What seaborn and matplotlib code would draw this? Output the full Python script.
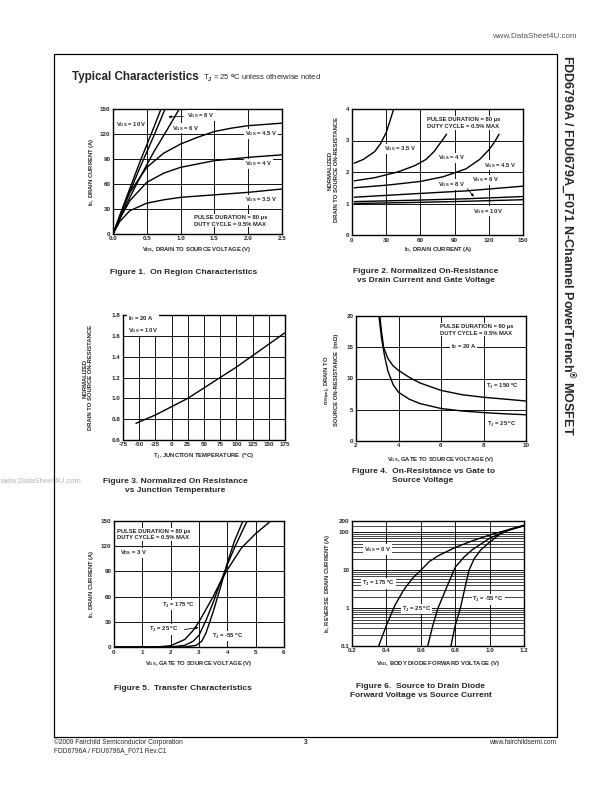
import matplotlib
matplotlib.use("Agg")
import matplotlib.pyplot as plt
import seaborn as sns
from matplotlib.patches import Rectangle
from matplotlib.ticker import FixedLocator, NullFormatter

sns.set_style("white")
plt.rcParams['font.family'] = ['Liberation Sans', 'DejaVu Sans']
plt.rcParams['font.weight'] = 'bold'
plt.rcParams['axes.unicode_minus'] = False
plt.rcParams['mathtext.fontset'] = 'custom'
plt.rcParams['mathtext.rm'] = 'Liberation Sans:bold'
plt.rcParams['mathtext.it'] = 'Liberation Sans:bold'
plt.rcParams['mathtext.bf'] = 'Liberation Sans:bold'
plt.rcParams['mathtext.sf'] = 'Liberation Sans:bold'

# ---- Figure 1: on region characteristics (VDS in V, ID in A)
f1_vds_10v = [0, 0.2, 0.4, 0.6, 0.71]
f1_id_10v = [0, 44, 87, 127, 150]
f1_vds_8v = [0, 0.2, 0.4, 0.6, 0.77]
f1_id_8v = [0, 41, 80, 117, 150]
f1_vds_6v = [0, 0.2, 0.4, 0.6, 0.8, 0.98]
f1_id_6v = [0, 36, 68, 98, 125, 150]
f1_vds_45v = [0, 0.125, 0.25, 0.5, 0.75, 1.0, 1.25, 1.5, 1.75, 2.0, 2.5]
f1_id_45v = [0, 27, 50, 80, 97, 108, 116, 123, 127, 130, 133]
f1_vds_4v = [0, 0.125, 0.25, 0.5, 0.75, 1.0, 1.5, 2.0, 2.5]
f1_id_4v = [0, 22, 40, 62, 73, 80, 88, 92, 95]
f1_vds_35v = [0, 0.1, 0.25, 0.5, 0.75, 1.0, 1.5, 2.0, 2.5]
f1_id_35v = [0, 15, 28, 37, 41, 44, 47, 50, 54]

# ---- Figure 2: normalized on-resistance vs drain current
f2_id_35v = [2, 10, 20, 25, 30, 34, 37]
f2_r_35v = [2.28, 2.4, 2.65, 2.9, 3.25, 3.7, 4.05]
f2_id_4v = [2, 20, 40, 55, 65, 72, 78, 83]
f2_r_4v = [1.72, 1.82, 2.0, 2.2, 2.4, 2.65, 2.95, 3.2]
f2_id_45v = [2, 30, 60, 80, 100, 112, 120, 125, 129]
f2_r_45v = [1.5, 1.58, 1.7, 1.85, 2.1, 2.4, 2.7, 2.95, 3.2]
f2_id_6v = [2, 50, 100, 150]
f2_r_6v = [1.2, 1.3, 1.4, 1.55]
f2_id_8v = [2, 50, 100, 150]
f2_r_8v = [1.06, 1.1, 1.15, 1.22]
f2_id_10v = [2, 50, 100, 150]
f2_r_10v = [1.0, 1.03, 1.07, 1.12]

# ---- Figure 3: normalized on-resistance vs junction temperature
f3_tj = [-55, -25, 0, 25, 50, 75, 100, 125, 150, 175]
f3_r = [0.76, 0.84, 0.92, 1.0, 1.1, 1.2, 1.3, 1.41, 1.52, 1.63]

# ---- Figure 4: on-resistance vs gate voltage (mOhm)
f4_vgs_150 = [3.12, 3.2, 3.3, 3.5, 3.75, 4, 4.5, 5, 6, 7, 8, 9, 10]
f4_r_150 = [20, 17.5, 15, 13.2, 12.0, 11.3, 10.2, 9.3, 8.1, 7.4, 7.0, 6.7, 6.4]
f4_vgs_25 = [3.08, 3.2, 3.35, 3.5, 3.75, 4, 4.5, 5, 6, 7, 8, 9, 10]
f4_r_25 = [20, 16.5, 13.5, 11.2, 9.0, 7.8, 6.7, 6.0, 5.2, 4.8, 4.55, 4.35, 4.2]

# ---- Figure 5: transfer characteristics
f5_vgs_175 = [0, 1.5, 2, 2.5, 2.8, 3, 3.25, 3.5, 3.75, 4, 4.5, 5, 5.5]
f5_id_175 = [0, 0, 1.5, 9, 20, 30, 45, 60, 77, 92, 118, 135, 149]
f5_vgs_25 = [0, 2, 2.5, 2.8, 3, 3.25, 3.5, 3.75, 4, 4.25, 4.5, 4.7]
f5_id_25 = [0, 0, 2, 7, 14, 32, 53, 76, 98, 118, 136, 150]
f5_vgs_m55 = [0, 2.5, 2.9, 3.1, 3.25, 3.5, 3.75, 4, 4.25, 4.55]
f5_id_m55 = [0, 0, 2, 7, 17, 42, 70, 100, 126, 150]

# ---- Figure 6: body diode forward voltage vs source current
f6_vsd_175 = [0.355, 0.4, 0.45, 0.5, 0.55, 0.6, 0.65, 0.7, 0.8, 0.9, 1.0, 1.1, 1.2]
f6_is_175 = [0.1, 0.35, 1.2, 3, 6, 10, 17, 24, 40, 60, 85, 115, 155]
f6_vsd_25 = [0.64, 0.67, 0.7, 0.75, 0.8, 0.85, 0.9, 1.0, 1.1, 1.2]
f6_is_25 = [0.1, 0.35, 1, 3.5, 12, 22, 35, 70, 110, 150]
f6_vsd_m55 = [0.775, 0.8, 0.83, 0.86, 0.88, 0.91, 0.95, 1.0, 1.06, 1.12, 1.2]
f6_is_m55 = [0.1, 0.35, 1, 4, 10, 20, 35, 55, 90, 120, 150]

W, H = 612, 792
fig = plt.figure(figsize=(W / 72, H / 72), dpi=72)
fig.patch.set_facecolor('white')

LBL = 5.9    # in-plot notes and axis titles
TICK = 6.2
CAP = 8.4    # figure captions
CAP_LS = 1.3
BOX = dict(facecolor='white', edgecolor='none', pad=0.8)


def ft(x, y, s, **kw):
    return fig.text(x / W, 1 - y / H, s, **kw)


def panel(l, t, r, b, xlim, ylim, xticks, yticks, xfmt=None, yfmt=None):
    ax = fig.add_axes([l / W, 1 - b / H, (r - l) / W, (b - t) / H])
    ax.set_xlim(*xlim)
    ax.set_ylim(*ylim)
    ax.set_xticks(xticks)
    ax.set_yticks(yticks)
    if xfmt:
        ax.set_xticklabels(xfmt)
    if yfmt:
        ax.set_yticklabels(yfmt)
    ax.tick_params(length=0, pad=2.5, labelsize=TICK)
    for lab in ax.get_xticklabels() + ax.get_yticklabels():
        lab.set_fontweight('bold')
    ax.grid(True, color='black', linewidth=0.9)
    ax.set_axisbelow(True)
    for sp in ax.spines.values():
        sp.set_color('black')
        sp.set_linewidth(1.4)
    return ax


def curve(ax, x, y):
    sns.lineplot(x=x, y=y, ax=ax, color='black', linewidth=1.4,
                 estimator=None, sort=False)


def label(ax, x, y, s):
    ax.text(x, y, s, fontsize=LBL, fontweight='bold', va='center', bbox=BOX, zorder=5)


PULSE = 'PULSE DURATION = 80 µs\nDUTY CYCLE = 0.5% MAX'

# ---------------- Figure 1
ax1 = panel(113, 109, 282, 234, (0, 2.5), (0, 150),
            [0, 0.5, 1.0, 1.5, 2.0, 2.5], [0, 30, 60, 90, 120, 150],
            xfmt=['0.0', '0.5', '1.0', '1.5', '2.0', '2.5'])
for xs, ys in [(f1_vds_10v, f1_id_10v), (f1_vds_8v, f1_id_8v), (f1_vds_6v, f1_id_6v),
               (f1_vds_45v, f1_id_45v), (f1_vds_4v, f1_id_4v), (f1_vds_35v, f1_id_35v)]:
    curve(ax1, xs, ys)
label(ax1, 0.04, 131, r'V$_{\mathrm{GS}}$ = 10 V')
label(ax1, 1.1, 142, r'V$_{\mathrm{GS}}$ = 8 V')
ax1.annotate('', xy=(0.79, 140.5), xytext=(1.07, 141),
             arrowprops=dict(arrowstyle='-|>', color='black', lw=0.8, mutation_scale=5))
label(ax1, 0.88, 127, r'V$_{\mathrm{GS}}$ = 6 V')
label(ax1, 1.95, 120, r'V$_{\mathrm{GS}}$ = 4.5 V')
label(ax1, 1.95, 84, r'V$_{\mathrm{GS}}$ = 4 V')
label(ax1, 1.95, 41, r'V$_{\mathrm{GS}}$ = 3.5 V')
ax1.text(1.2, 16, PULSE, fontsize=LBL, fontweight='bold', va='center',
         linespacing=1.45, bbox=BOX, zorder=5)
ft(91, 172, r'I$_{\mathrm{D}}$, DRAIN CURRENT (A)', rotation=90, ha='center', va='center',
   fontsize=LBL, fontweight='bold')
ft(197, 249, r'V$_{\mathrm{DS}}$, DRAIN TO SOURCE VOLTAGE (V)', ha='center', va='center',
   fontsize=LBL, fontweight='bold')
ft(184, 273, 'Figure 1.  On Region Characteristics', ha='center', va='center',
   fontsize=CAP, fontweight='bold')

# ---------------- Figure 2
ax2 = panel(352, 109, 523, 235, (0, 150), (0, 4),
            [0, 30, 60, 90, 120, 150], [0, 1, 2, 3, 4])
for xs, ys in [(f2_id_35v, f2_r_35v), (f2_id_4v, f2_r_4v), (f2_id_45v, f2_r_45v),
               (f2_id_6v, f2_r_6v), (f2_id_8v, f2_r_8v), (f2_id_10v, f2_r_10v)]:
    curve(ax2, xs, ys)
label(ax2, 28, 2.73, r'V$_{\mathrm{GS}}$ = 3.5 V')
label(ax2, 75, 2.45, r'V$_{\mathrm{GS}}$ = 4 V')
label(ax2, 116, 2.22, r'V$_{\mathrm{GS}}$ = 4.5 V')
label(ax2, 105, 1.75, r'V$_{\mathrm{GS}}$ = 6 V')
label(ax2, 75, 1.6, r'V$_{\mathrm{GS}}$ = 8 V')
ax2.annotate('', xy=(108, 1.17), xytext=(100, 1.52),
             arrowprops=dict(arrowstyle='-|>', color='black', lw=0.8, mutation_scale=5))
label(ax2, 106, 0.76, r'V$_{\mathrm{GS}}$ = 10 V')
ax2.text(66, 3.55, PULSE, fontsize=LBL, fontweight='bold', va='center',
         linespacing=1.45, bbox=BOX, zorder=5)
ft(333, 170, 'NORMALIZED\nDRAIN TO SOURCE ON-RESISTANCE', rotation=90, ha='center',
   va='center', fontsize=LBL, fontweight='bold', multialignment='center', linespacing=1.4)
ft(438, 250, r'I$_{\mathrm{D}}$, DRAIN CURRENT (A)', ha='center', va='center',
   fontsize=LBL, fontweight='bold')
ft(426, 276, 'Figure 2. Normalized On-Resistance\nvs Drain Current and Gate Voltage',
   ha='center', va='center', fontsize=CAP, fontweight='bold', multialignment='center',
   linespacing=CAP_LS)

# ---------------- Figure 3
ax3 = panel(123, 315, 285, 440, (-75, 175), (0.6, 1.8),
            list(range(-75, 176, 25)), [0.6, 0.8, 1.0, 1.2, 1.4, 1.6, 1.8],
            yfmt=['0.6', '0.8', '1.0', '1.2', '1.4', '1.6', '1.8'])
curve(ax3, f3_tj, f3_r)
ax3.text(-68, 1.705, 'I$_{\\mathrm{D}}$ = 20 A\nV$_{\\mathrm{GS}}$ = 10 V', fontsize=LBL,
         fontweight='bold', va='center', linespacing=1.5, bbox=BOX, zorder=5)
ft(88, 378, 'NORMALIZED\nDRAIN TO SOURCE ON-RESISTANCE', rotation=90, ha='center',
   va='center', fontsize=LBL, fontweight='bold', multialignment='center', linespacing=1.25)
ft(204, 456, r'T$_{\mathrm{J}}$, JUNCTION TEMPERATURE  ($^{\mathrm{o}}$C)', ha='center',
   va='center', fontsize=LBL, fontweight='bold')
ft(0, 481, 'www.DataSheet4U.com', ha='left', va='center', fontsize=7.6,
   color='#b4b4b4', fontweight='normal')
ft(175, 486, 'Figure 3. Normalized On Resistance\nvs Junction Temperature',
   ha='center', va='center', fontsize=CAP, fontweight='bold', multialignment='center',
   linespacing=CAP_LS, bbox=dict(facecolor='white', edgecolor='none', pad=0.3))

# ---------------- Figure 4
ax4 = panel(356, 316, 526, 441, (2, 10), (0, 20), [2, 4, 6, 8, 10], [0, 5, 10, 15, 20])
curve(ax4, f4_vgs_150, f4_r_150)
curve(ax4, f4_vgs_25, f4_r_25)
ax4.text(5.95, 17.8, PULSE, fontsize=LBL, fontweight='bold', va='center',
         linespacing=1.45, bbox=BOX, zorder=5)
label(ax4, 6.45, 15.1, r'I$_{\mathrm{D}}$ = 20 A')
label(ax4, 8.1, 8.8, r'T$_{\mathrm{J}}$ = 150 $^{\mathrm{o}}$C')
label(ax4, 8.15, 2.7, r'T$_{\mathrm{J}}$ = 25 $^{\mathrm{o}}$C')
ft(331, 380, 'r$_{\\mathrm{DS(on)}}$, DRAIN TO\nSOURCE ON-RESISTANCE  (mΩ)', rotation=90,
   ha='center', va='center', fontsize=LBL, fontweight='bold', multialignment='center',
   linespacing=1.15)
ft(441, 459, r'V$_{\mathrm{GS}}$, GATE TO SOURCE VOLTAGE (V)', ha='center', va='center',
   fontsize=LBL, fontweight='bold')
ft(423, 476, 'Figure 4.  On-Resistance vs Gate to\nSource Voltage', ha='center',
   va='center', fontsize=CAP, fontweight='bold', multialignment='center',
   linespacing=CAP_LS)

# ---------------- Figure 5
ax5 = panel(114, 521, 284, 647, (0, 6), (0, 150), [0, 1, 2, 3, 4, 5, 6],
            [0, 30, 60, 90, 120, 150])
for xs, ys in [(f5_vgs_175, f5_id_175), (f5_vgs_25, f5_id_25), (f5_vgs_m55, f5_id_m55)]:
    curve(ax5, xs, ys)
ax5.text(0.12, 134, PULSE, fontsize=LBL, fontweight='bold', va='center',
         linespacing=1.45, bbox=BOX, zorder=5)
label(ax5, 0.2, 112, r'V$_{\mathrm{DS}}$ = 3 V')
label(ax5, 1.7, 50, r'T$_{\mathrm{J}}$ = 175 $^{\mathrm{o}}$C')
label(ax5, 1.25, 21, r'T$_{\mathrm{J}}$ = 25 $^{\mathrm{o}}$C')
ax5.annotate('', xy=(3.05, 23.5), xytext=(2.42, 20.5),
             arrowprops=dict(arrowstyle='-|>', color='black', lw=0.8, mutation_scale=5))
label(ax5, 3.45, 13, r'T$_{\mathrm{J}}$ = -55 $^{\mathrm{o}}$C')
ft(92, 584, r'I$_{\mathrm{D}}$, DRAIN CURRENT (A)', rotation=90, ha='center', va='center',
   fontsize=LBL, fontweight='bold')
ft(199, 663, r'V$_{\mathrm{GS}}$, GATE TO SOURCE VOLTAGE (V)', ha='center', va='center',
   fontsize=LBL, fontweight='bold')
ft(183, 688, 'Figure 5.  Transfer Characteristics', ha='center', va='center',
   fontsize=CAP, fontweight='bold')

# ---------------- Figure 6
ax6 = fig.add_axes([352 / W, 1 - 646 / H, (524 - 352) / W, (646 - 521) / H])
ax6.set_yscale('log')
ax6.set_xlim(0.2, 1.2)
ax6.set_ylim(0.1, 200)
ax6.set_xticks([0.2, 0.4, 0.6, 0.8, 1.0, 1.2])
ax6.set_xticklabels(['0.2', '0.4', '0.6', '0.8', '1.0', '1.2'])
ax6.yaxis.set_major_locator(FixedLocator([0.1, 1, 10, 100, 200]))
ax6.set_yticklabels(['0.1', '1', '10', '100', '200'])
minor = [m * d for d in [0.1, 1, 10] for m in range(2, 10)] + [150]
ax6.yaxis.set_minor_locator(FixedLocator(minor))
ax6.yaxis.set_minor_formatter(NullFormatter())
ax6.tick_params(which='both', length=0, pad=2.5, labelsize=TICK)
for lab in ax6.get_xticklabels() + ax6.get_yticklabels():
    lab.set_fontweight('bold')
ax6.grid(True, which='major', color='black', linewidth=0.9)
ax6.grid(True, which='minor', axis='y', color='black', linewidth=0.7)
ax6.set_axisbelow(True)
for sp in ax6.spines.values():
    sp.set_color('black')
    sp.set_linewidth(1.4)
for xs, ys in [(f6_vsd_175, f6_is_175), (f6_vsd_25, f6_is_25), (f6_vsd_m55, f6_is_m55)]:
    curve(ax6, xs, ys)
label(ax6, 0.27, 35, r'V$_{\mathrm{GS}}$ = 0 V')
label(ax6, 0.26, 4.4, r'T$_{\mathrm{J}}$ = 175 $^{\mathrm{o}}$C')
label(ax6, 0.49, 0.95, r'T$_{\mathrm{J}}$ = 25 $^{\mathrm{o}}$C')
label(ax6, 0.9, 1.7, r'T$_{\mathrm{J}}$ = -55 $^{\mathrm{o}}$C')
ft(327, 583, r'I$_{\mathrm{S}}$, REVERSE  DRAIN CURRENT (A)', rotation=90, ha='center',
   va='center', fontsize=LBL, fontweight='bold')
ft(438, 663, r'V$_{\mathrm{SD}}$, BODY DIODE FORWARD VOLTAGE (V)', ha='center',
   va='center', fontsize=LBL, fontweight='bold')
ft(421, 691, 'Figure 6.  Source to Drain Diode\nForward Voltage vs Source Current',
   ha='center', va='center', fontsize=CAP, fontweight='bold', multialignment='center',
   linespacing=CAP_LS)

# ---------------- page furniture
fig.add_artist(Rectangle((54 / W, 1 - 737 / H), (557 - 54) / W, (737 - 54) / H,
                         transform=fig.transFigure, fill=False, edgecolor='black',
                         linewidth=1.2))
ft(72, 77, 'Typical Characteristics', ha='left', va='center', fontsize=11.6,
   fontweight='bold')
ft(203, 78, r'T$_{\mathrm{J}}$ = 25 $^{\mathrm{o}}$C unless otherwise noted', ha='left',
   va='center', fontsize=7.6, fontweight='normal')
ft(577, 36, 'www.DataSheet4U.com', ha='right', va='center', fontsize=8,
   color='#555555', fontweight='normal')
ft(568, 55, r'FDD6796A / FDU679A_F071 N-Channel PowerTrench$^{\circledR}$ MOSFET',
   rotation=-90, ha='center', va='top', fontsize=12.6, fontweight='bold')
ft(54, 742, '©2009 Fairchild Semiconductor Corporation', ha='left', va='center',
   fontsize=6.6, fontweight='normal')
ft(54, 751, 'FDD6796A / FDU6796A_F071 Rev.C1', ha='left', va='center',
   fontsize=6.6, fontweight='normal')
ft(306, 742, '3', ha='center', va='center', fontsize=6.6, fontweight='bold')
ft(556, 742, 'www.fairchildsemi.com', ha='right', va='center', fontsize=6.6,
   fontweight='normal')

fig.savefig('out.png', dpi=72, facecolor='white')
